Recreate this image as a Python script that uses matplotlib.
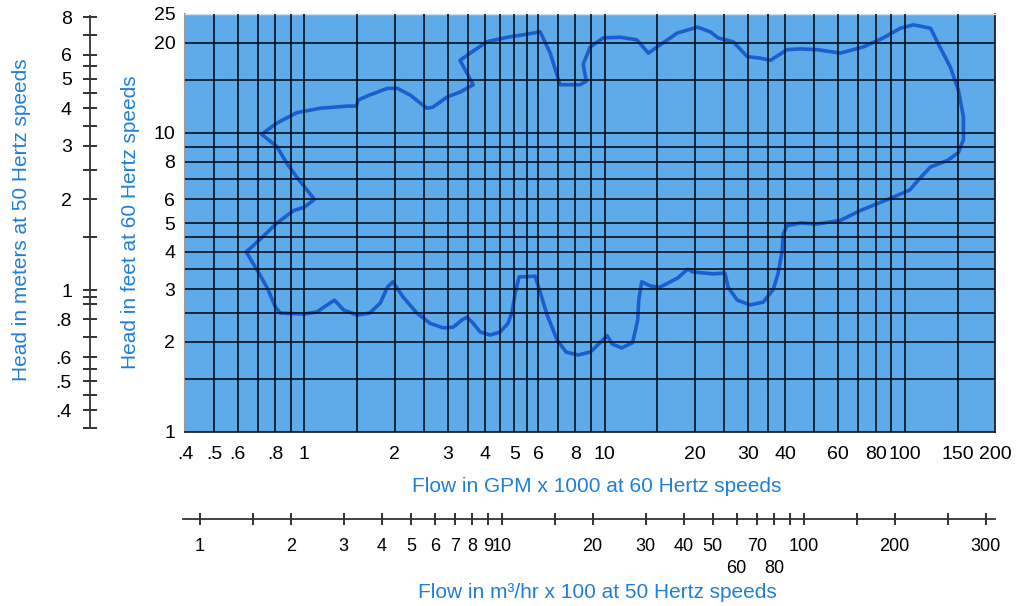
import matplotlib
matplotlib.use("Agg")
import matplotlib.pyplot as plt

plt.rcParams['font.family'] = ['Liberation Sans', 'DejaVu Sans']

# ---------------- data ----------------
# outline of the pump coverage region: flow (GPM x 1000 @60Hz), head (ft @60Hz)
flow = [0.64, 0.71, 0.81, 0.92, 1.0, 1.08, 1.02, 0.945, 0.875, 0.81, 0.72,
        0.81, 0.945, 1.13, 1.39, 1.49, 1.51, 1.65, 1.89, 2.04, 2.25, 2.43,
        2.56, 2.68, 2.99, 3.30, 3.65, 3.30, 3.57, 4.06, 4.74, 5.52, 6.10,
        6.59, 7.11, 8.29, 8.69, 8.49, 8.96, 9.9, 11.3, 12.8, 14.0, 15.3,
        17.5, 20.4, 22.5, 23.9, 26.8, 29.9, 33.0, 35.7, 40.6, 44.9, 51.1,
        61.0, 72.8, 84.9, 96.7, 107, 122, 131, 142, 151, 157, 157, 151,
        139, 122, 113, 104, 91.6, 81, 71.1, 61, 51.1, 44.9, 40.6, 39.4,
        39.1, 37.9, 36.5, 33.8, 30.6, 27.7, 25.8, 25.2, 23.0, 19.7, 18.9,
        17.5, 15.3, 14.2, 13.3, 13.0, 12.9, 12.4, 11.4, 10.6, 10.2, 9.67,
        8.96, 8.17, 7.45, 6.95, 6.44, 6.10, 5.87, 5.19, 5.04, 4.92, 4.77,
        4.49, 4.16, 3.85, 3.65, 3.48, 3.35, 3.13, 2.90, 2.62, 2.37, 2.13,
        1.97, 1.89, 1.79, 1.65, 1.50, 1.35, 1.26, 1.19, 1.10, 0.99, 0.83,
        0.80, 0.756, 0.711, 0.64]
head = [4.0, 4.4, 5.0, 5.5, 5.65, 6.0, 6.45, 7.1, 7.9, 9.0, 9.9,
        10.8, 11.7, 12.1, 12.3, 12.3, 12.9, 13.4, 14.1, 14.1, 13.4, 12.6,
        12.1, 12.2, 13.2, 13.7, 14.5, 17.5, 18.5, 20.2, 20.9, 21.4, 21.8,
        18.5, 14.5, 14.5, 14.9, 17.0, 19.4, 20.8, 20.9, 20.5, 18.5, 19.7,
        21.6, 22.6, 21.8, 20.8, 20.2, 18.0, 17.8, 17.5, 19.0, 19.1, 19.0,
        18.5, 19.4, 20.8, 22.4, 23.0, 22.4, 19.4, 16.6, 13.9, 11.3, 9.5, 8.6,
        8.1, 7.7, 7.1, 6.45, 6.1, 5.8, 5.5, 5.1, 4.96, 5.0, 4.9, 4.6,
        4.06, 3.4, 3.0, 2.72, 2.66, 2.76, 3.05, 3.4, 3.38, 3.43, 3.5,
        3.27, 3.05, 3.08, 3.18, 2.76, 2.37, 1.99, 1.91, 1.97, 2.1, 1.99,
        1.85, 1.81, 1.85, 2.03, 2.46, 2.94, 3.32, 3.3, 2.92, 2.52, 2.31,
        2.16, 2.11, 2.16, 2.31, 2.42, 2.37, 2.24, 2.23, 2.31, 2.5, 2.83,
        3.18, 3.05, 2.7, 2.5, 2.46, 2.56, 2.76, 2.66, 2.52, 2.48, 2.5,
        2.62, 3.0, 3.35, 4.0]

# main axes ticks / grid
gpm_ticks = [0.4, 0.5, 0.6, 0.8, 1, 2, 3, 4, 5, 6, 8, 10, 20, 30, 40, 60, 80, 100, 150, 200]
gpm_labels = ['.4', '.5', '.6', '.8', '1', '2', '3', '4', '5', '6', '8', '10',
              '20', '30', '40', '60', '80', '100', '150', '200']
gpm_grid = [0.5, 0.6, 0.7, 0.8, 0.9, 1, 1.5, 2, 2.5, 3, 3.5, 4, 4.5, 5, 5.5, 6, 7, 8, 9,
            10, 15, 20, 25, 30, 35, 40, 50, 60, 70, 80, 90, 100, 150]
ft_ticks = [1, 2, 3, 4, 5, 6, 8, 10, 20, 25]
ft_labels = ['1', '2', '3', '4', '5', '6', '8', '10', '20', '25']
ft_grid = [1.5, 2, 2.5, 3, 3.5, 4, 4.5, 5, 6, 7, 8, 9, 10, 15, 20]

# meters scale (50 Hz)
m_ticks = [0.35, 0.4, 0.45, 0.5, 0.55, 0.6, 0.7, 0.8, 0.9, 0.95, 1, 1.5, 2, 2.5,
           3, 3.5, 4, 4.5, 5, 5.5, 6, 7, 8]
m_labels = ['', '.4', '', '.5', '', '.6', '', '.8', '', '', '1', '', '2', '',
            '3', '', '4', '', '5', '', '6', '', '8']

# m3/hr x 100 scale (50 Hz): upper-row labels and lower-row labels
m3_ticks = [1, 1.5, 2, 3, 4, 5, 6, 7, 8, 9, 10, 15, 20, 30, 40, 50, 70, 90,
            100, 150, 200, 300, 400]
m3_labels = ['1', '', '2', '3', '4', '5', '6', '7', '8', '9', '10', '', '20', '30',
             '40', '50', '70', '', '100', '', '200', '', '300']
m3_low_ticks = [60, 80]
m3_low_labels = ['60', '80']

# ---------------- figure ----------------
W, H = 1034, 606
fig = plt.figure(figsize=(W / 100, H / 100), dpi=100)
fig.patch.set_facecolor('white')

def fx(px):
    return px / W

def fy(py):
    return 1 - py / H

BLUE_TXT = '#1f80d6'
L, R, T, B = 185, 995, 14, 432
ax = fig.add_axes([fx(L), fy(B), fx(R) - fx(L), fy(T) - fy(B)])
ax.set_facecolor('#5eabe9')
ax.set_xscale('log')
ax.set_yscale('log')
ax.set_xlim(0.4, 200)
ax.set_ylim(1, 25)

for g in gpm_grid:
    ax.axvline(g, color='#0a0f1e', lw=1.2, zorder=3)
for g in ft_grid:
    ax.axhline(g, color='#0a0f1e', lw=1.2, zorder=3)

ax.plot(flow, head, color='#1a5fd0', lw=2.6, solid_joinstyle='round', zorder=2)

ax.set_xticks(gpm_ticks)
ax.set_xticklabels(gpm_labels)
ax.set_yticks(ft_ticks)
ax.set_yticklabels(ft_labels)
ax.xaxis.set_minor_locator(matplotlib.ticker.NullLocator())
ax.yaxis.set_minor_locator(matplotlib.ticker.NullLocator())
ax.tick_params(axis='x', length=0, pad=10, labelsize=14)
ax.tick_params(axis='y', length=0, pad=7, labelsize=14)
for s in ['right', 'bottom']:
    ax.spines[s].set_color('#111111')
    ax.spines[s].set_linewidth(1.2)
ax.spines['left'].set_color('#9a9a9a')
ax.spines['left'].set_linewidth(1.5)
ax.spines['top'].set_color('#cfe3f3')
ax.spines['top'].set_linewidth(1.0)

# meters axis
axm = fig.add_axes([fx(90), fy(B), 0.0005, fy(T) - fy(B)])
axm.set_yscale('log')
axm.set_ylim(0.339, 8.2)
axm.patch.set_visible(False)
for s in ['right', 'top', 'bottom']:
    axm.spines[s].set_visible(False)
axm.spines['left'].set_color('#333333')
axm.spines['left'].set_linewidth(1.3)
axm.spines['left'].set_bounds(0.35, 8.05)
axm.set_xticks([])
axm.set_yticks(m_ticks)
axm.set_yticklabels(m_labels)
axm.yaxis.set_minor_locator(matplotlib.ticker.NullLocator())
axm.tick_params(axis='y', direction='inout', length=10, width=1.3, pad=8,
                labelsize=14, color='#222222')

# m3/hr axis
ax3 = fig.add_axes([fx(183), fy(519), fx(995) - fx(183), 0.0005])
ax3.set_xscale('log')
ax3.set_xlim(0.88, 430)
ax3.patch.set_visible(False)
for s in ['left', 'right', 'top']:
    ax3.spines[s].set_visible(False)
ax3.spines['bottom'].set_color('#333333')
ax3.spines['bottom'].set_linewidth(1.3)
ax3.set_yticks([])
ax3.set_xticks(m3_ticks)
ax3.set_xticklabels(m3_labels)
ax3.set_xticks(m3_low_ticks, minor=True)
ax3.set_xticklabels(m3_low_labels, minor=True)
ax3.tick_params(axis='x', which='major', direction='inout', length=9, width=1.3,
                pad=9, labelsize=13, color='#222222')
ax3.tick_params(axis='x', which='minor', direction='inout', length=9, width=1.3,
                pad=25, labelsize=13, color='#222222')

# axis titles
fig.text(fx(597), fy(486), 'Flow in GPM x 1000 at 60 Hertz speeds', color=BLUE_TXT,
         fontsize=15, ha='center', va='center')
fig.text(fx(597), fy(592), 'Flow in m\u00b3/hr x 100 at 50 Hertz speeds', color=BLUE_TXT,
         fontsize=15, ha='center', va='center')
fig.text(fx(22), fy(220), 'Head in meters at 50 Hertz speeds', color=BLUE_TXT,
         fontsize=15, ha='center', va='center', rotation=90)
fig.text(fx(130), fy(222), 'Head in feet at 60 Hertz speeds', color=BLUE_TXT,
         fontsize=15, ha='center', va='center', rotation=90)

fig.savefig('out.png', dpi=100)
